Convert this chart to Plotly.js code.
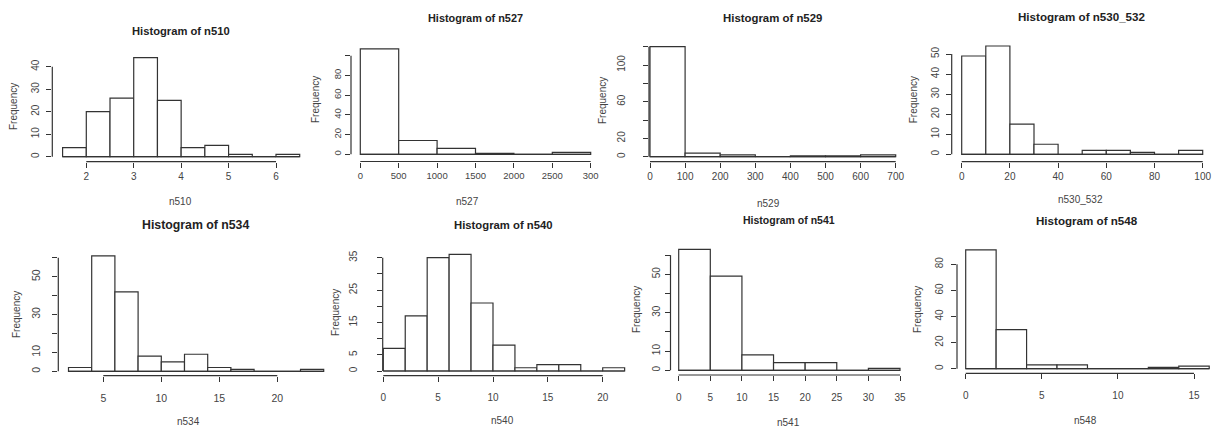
<!DOCTYPE html>
<html><head><meta charset="utf-8">
<script src="https://cdn.plot.ly/plotly-3.0.1.min.js"></script>
<style>html,body{margin:0;padding:0;background:#fff}#chart{width:1221px;height:427px}</style>
</head><body><div id="chart"></div>
<script>
// ---------------- data ----------------
const varNames = ["n510","n527","n529","n530_532","n534","n540","n541","n548"];
const binStart = [1.5, 0, 0, 0, 2, 0, 0, 0];
const binWidth = [0.5, 500, 100, 10, 2, 2, 5, 2];

const counts_n510     = [4,20,26,44,25,4,5,1,0,1];
const counts_n527     = [107,14,6,1,0,2];
const counts_n529     = [120,4,2,0,1,1,2];
const counts_n530_532 = [49,54,15,5,0,2,2,1,0,2];
const counts_n534     = [2,61,42,8,5,9,2,1,0,0,1];
const counts_n540     = [7,17,35,36,21,8,1,2,2,0,1];
const counts_n541     = [63,49,8,4,4,0,1];
const counts_n548     = [91,30,3,3,0,0,1,2];

const xTicks_n510     = [2,3,4,5,6];
const xTicks_n527     = [0,500,1000,1500,2000,2500,3000];
const xLabels_n527    = ["0","500","1000","1500","2000","2500","300"];
const xTicks_n529     = [0,100,200,300,400,500,600,700];
const xTicks_n530_532 = [0,20,40,60,80,100];
const xTicks_n534     = [5,10,15,20];
const xTicks_n540     = [0,5,10,15,20];
const xTicks_n541     = [0,5,10,15,20,25,30,35];
const xTicks_n548     = [0,5,10,15];

const yTicks_n510     = [0,10,20,30,40];
const yLabels_n510    = ["0","10","20","30","40"];
const yTicks_n527     = [0,20,40,60,80,100];
const yLabels_n527    = ["0","20","40","60","80",""];
const yTicks_n529     = [0,20,40,60,80,100,120];
const yLabels_n529    = ["0","20","","60","","100",""];
const yTicks_n530_532 = [0,10,20,30,40,50];
const yLabels_n530_532= ["0","10","20","30","40","50"];
const yTicks_n534     = [0,10,20,30,40,50,60];
const yLabels_n534    = ["0","10","","30","","50",""];
const yTicks_n540     = [0,5,10,15,20,25,30,35];
const yLabels_n540    = ["0","5","","15","","25","","35"];
const yTicks_n541     = [0,10,20,30,40,50,60];
const yLabels_n541    = ["0","10","","30","","50",""];
const yTicks_n548     = [0,20,40,60,80];
const yLabels_n548    = ["0","20","40","60","80"];

const allCounts  = [counts_n510,counts_n527,counts_n529,counts_n530_532,counts_n534,counts_n540,counts_n541,counts_n548];
const allXTicks  = [xTicks_n510,xTicks_n527,xTicks_n529,xTicks_n530_532,xTicks_n534,xTicks_n540,xTicks_n541,xTicks_n548];
const allXLabels = [xTicks_n510.map(String),xLabels_n527,xTicks_n529.map(String),xTicks_n530_532.map(String),xTicks_n534.map(String),xTicks_n540.map(String),xTicks_n541.map(String),xTicks_n548.map(String)];
const allYTicks  = [yTicks_n510,yTicks_n527,yTicks_n529,yTicks_n530_532,yTicks_n534,yTicks_n540,yTicks_n541,yTicks_n548];
const allYLabels = [yLabels_n510,yLabels_n527,yLabels_n529,yLabels_n530_532,yLabels_n534,yLabels_n540,yLabels_n541,yLabels_n548];

// ---------------- layout geometry (pixels) ----------------
const W = 1221, H = 427;
const geom = [
 {L:52.3, R:309,  T:53,  B:161.7, xm:[2,86.3,6,276.0],    ym:[0,156.7,40,66.7],  tt:[181,30.7,11.2],  xl:[180,201.7],  yl:[13.3,106.7], xs:5.5, ys:3,  tf:10},
 {L:351,  R:600,  T:44,  B:161.5, xm:[0,360.3,2500,552.3],ym:[0,154.3,80,75.5],  tt:[475,18.3,10.9],  xl:[467,201.7],  yl:[315,100],    xs:0,   ys:0,  tf:9.5},
 {L:649,  R:905,  T:42,  B:161.7, xm:[0,650,700,895.7],   ym:[0,156.7,100,65],   tt:[772.5,18.3,11.4],xl:[768,203.3],  yl:[602,101],    xs:6.5, ys:14, tf:10},
 {L:951.7,R:1212, T:40,  B:161.7, xm:[0,961.7,100,1202.7],ym:[0,154.3,50,54.0],  tt:[1081.7,16.7,11.6],xl:[1080,199.3],yl:[913.3,100],  xs:4.5, ys:3,  tf:10},
 {L:58.3, R:334,  T:250, B:375.7, xm:[5,103.3,20,277.3],  ym:[0,371.3,50,276.7], tt:[195.5,225,12.3], xl:[188,421],    yl:[16,315],     xs:8,   ys:8,  tf:10.5},
 {L:382.7,R:634,  T:252, B:375.7, xm:[0,383.3,20,602.7],  ym:[0,371,35,257.7],   tt:[503,225,11.3],   xl:[502,420.7],  yl:[335,313],    xs:7,   ys:16, tf:10},
 {L:670.5,R:909,  T:246, B:375,   xm:[0,678.7,35,900],    ym:[0,370.3,50,274.3], tt:[789,220,10.5],   xl:[788,422.7],  yl:[636,310],    xs:8,   ys:1,  tf:10},
 {L:957,  R:1219, T:245, B:373.3, xm:[0,965.7,15,1194],   ym:[0,368.7,80,264.3], tt:[1087,220,11.6],  xl:[1085,420],   yl:[917,310],    xs:8,   ys:4,  tf:10}
];

const FONT = "Liberation Sans, Arial, Helvetica, sans-serif";
const INK = "#333333", TXT = "#444444";
const TICKLEN = 5;

function rangeFrom(m, p0, p1){
  const s = (m[3]-m[1])/(m[2]-m[0]);
  return [m[0]+(p0-m[1])/s, m[0]+(p1-m[1])/s];
}

const traces = [], shapes = [], annotations = [];
const layout = {
  width: W, height: H, margin:{l:0,r:0,t:0,b:0},
  paper_bgcolor:"#ffffff", plot_bgcolor:"rgba(0,0,0,0)",
  showlegend:false, bargap:0, font:{family:FONT, color:TXT}
};

for (let i=0;i<8;i++){
  const g = geom[i], s = i===0 ? "" : String(i+1);
  const xa = "x"+s, ya = "y"+s;
  const counts = allCounts[i];
  const centers = counts.map((_,k)=> binStart[i] + binWidth[i]*(k+0.5));
  traces.push({
    type:"bar", x:centers, y:counts, width:counts.map(()=>binWidth[i]),
    xaxis:xa, yaxis:ya, marker:{color:"#ffffff", line:{color:INK, width:1.2}},
    hoverinfo:"x+y"
  });
  const xEnd = binStart[i] + binWidth[i]*counts.length;
  traces.push({
    type:"scatter", mode:"lines", x:[binStart[i], xEnd], y:[0,0],
    xaxis:xa, yaxis:ya, line:{color:INK, width:1.2}, hoverinfo:"skip"
  });
  const xt = allXTicks[i], yt = allYTicks[i];
  layout["xaxis"+s] = {
    domain:[g.L/W, g.R/W], range:rangeFrom(g.xm, g.L, g.R), anchor:ya,
    showgrid:false, zeroline:false, showline:false, fixedrange:true,
    tickmode:"array", tickvals:xt, ticktext:allXLabels[i],
    ticks:"outside", ticklen:TICKLEN, tickwidth:1, tickcolor:INK,
    tickfont:{family:FONT, size:g.tf, color:TXT},
    ticklabelstandoff: g.xs
  };
  layout["yaxis"+s] = {
    domain:[1-g.B/H, 1-g.T/H], range:rangeFrom(g.ym, g.B, g.T), anchor:xa,
    showgrid:false, zeroline:false, showline:false, fixedrange:true,
    tickmode:"array", tickvals:yt, ticktext:allYLabels[i],
    ticks:"outside", ticklen:TICKLEN, tickwidth:1, tickcolor:INK, tickangle:-90,
    tickfont:{family:FONT, size:g.tf, color:TXT},
    ticklabelstandoff: g.ys
  };
  // R-style axis lines spanning first..last tick
  shapes.push({type:"line", xref:xa, yref:ya+" domain", x0:xt[0], x1:xt[xt.length-1], y0:0, y1:0,
               line:{color:INK, width:1.2}});
  shapes.push({type:"line", xref:xa+" domain", yref:ya, x0:0, x1:0, y0:yt[0], y1:yt[yt.length-1],
               line:{color:INK, width:1.2}});
  // texts
  annotations.push({text:"<b>Histogram of "+varNames[i]+"</b>", xref:"paper", yref:"paper",
    x:g.tt[0]/W, y:1-g.tt[1]/H, xanchor:"center", yanchor:"middle", showarrow:false,
    font:{family:FONT, size:g.tt[2], color:"#222222"}});
  annotations.push({text:varNames[i], xref:"paper", yref:"paper",
    x:g.xl[0]/W, y:1-g.xl[1]/H, xanchor:"center", yanchor:"middle", showarrow:false,
    font:{family:FONT, size:10, color:TXT}});
  annotations.push({text:"Frequency", xref:"paper", yref:"paper", textangle:-90,
    x:g.yl[0]/W, y:1-g.yl[1]/H, xanchor:"center", yanchor:"middle", showarrow:false,
    font:{family:FONT, size:10, color:TXT}});
}
layout.shapes = shapes;
layout.annotations = annotations;

Plotly.newPlot("chart", traces, layout, {staticPlot:true, displayModeBar:false});
</script>
</body></html>
